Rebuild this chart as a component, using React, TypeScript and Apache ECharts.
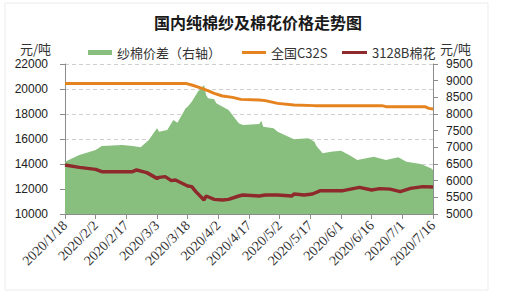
import React, { useEffect, useRef } from "react";
import * as echarts from "echarts";

// Day offsets from 2020/1/18
const xTickStep = 15;
const xMaxDay = 180;

const spreadDays = [0, 7, 15, 18, 28, 33, 37, 41, 45, 46, 50, 53, 55, 59, 60, 62, 64, 65, 68, 69, 70, 73, 74, 80, 85, 87, 95, 96, 97, 102, 104, 112, 119, 122, 123, 126, 130, 135, 139, 143, 151, 157, 163, 167, 174, 179, 180];
const spreadValues = [6570, 6770, 6920, 7040, 7070, 7040, 7000, 7220, 7570, 7470, 7520, 7820, 7740, 8170, 8220, 8370, 8570, 8670, 8870, 8570, 8470, 8440, 8320, 8120, 7720, 7670, 7700, 7800, 7620, 7570, 7470, 7240, 7270, 7170, 7040, 6820, 6870, 6900, 6770, 6620, 6720, 6620, 6700, 6570, 6500, 6370, 6320];

const c32sDays = [0, 59, 62, 67, 71, 73, 77, 82, 86, 95, 98, 104, 112, 122, 155, 157, 176, 178, 180];
const c32sValues = [20450, 20450, 20320, 20050, 19790, 19650, 19440, 19330, 19170, 19120, 19070, 18850, 18720, 18670, 18670, 18590, 18590, 18450, 18400];

const cottonDays = [0, 7, 15, 18, 33, 35, 40, 45, 46, 49, 52, 54, 60, 62, 64, 68, 69, 73, 77, 80, 85, 87, 95, 98, 104, 111, 112, 117, 121, 125, 136, 144, 150, 154, 159, 164, 169, 175, 180];
const cottonValues = [13920, 13730, 13570, 13390, 13390, 13520, 13310, 12850, 12930, 12990, 12670, 12720, 12240, 12190, 11790, 11120, 11440, 11170, 11120, 11170, 11440, 11520, 11440, 11520, 11520, 11440, 11600, 11520, 11600, 11870, 11870, 12130, 11920, 12030, 11990, 11790, 12050, 12190, 12160];

const seriesNames = ["纱棉价差（右轴）", "全国C32S", "3128B棉花"];
const titleText = "国内纯棉纱及棉花价格走势图";
const unitText = "元/吨";

const START = Date.UTC(2020, 0, 18);
function dayLabel(v: number): string {
  const d = new Date(START + v * 86400000);
  return `${d.getUTCFullYear()}/${d.getUTCMonth() + 1}/${d.getUTCDate()}`;
}

const zip = (xs: number[], ys: number[]) => xs.map((x, i) => [x, ys[i]]);

export default function App() {
  const ref = useRef<HTMLDivElement>(null);
  useEffect(() => {
    if (!ref.current) return;
    const chart = echarts.init(ref.current, undefined, { renderer: "svg" });
    const cjk = "'Noto Sans CJK SC', 'Noto Sans', sans-serif";
    const axisColor = "#8c8c8c";
    const numFont = "'Liberation Sans', Arial, sans-serif";
    chart.setOption({
      animation: false,
      backgroundColor: "#fff",
      grid: { left: 65, right: 76, top: 64, bottom: 83, containLabel: false },
      graphic: [
        { type: "rect", shape: { x: 5, y: 3, width: 483, height: 287 }, style: { fill: "none", stroke: "#ececec", lineWidth: 1 }, silent: true },
        { type: "text", x: 258, y: 22, style: { text: titleText, textAlign: "center", textVerticalAlign: "middle", font: `bold 16px ${cjk}`, fill: "#1a1a1a" } },
        { type: "text", x: 20, y: 48, style: { text: unitText, textVerticalAlign: "middle", font: `13px ${cjk}`, fill: "#333" } },
        { type: "text", x: 440, y: 48, style: { text: unitText, textVerticalAlign: "middle", font: `13px ${cjk}`, fill: "#333" } },
      ],
      legend: [
        { data: [seriesNames[0]], left: 83, top: 41, icon: "rect", itemWidth: 24, itemHeight: 5, itemGap: 0, textStyle: { fontSize: 13, fontFamily: cjk, color: "#333" } },
        { data: [seriesNames[1]], left: 237, top: 41, icon: "rect", itemWidth: 24, itemHeight: 3, itemGap: 0, textStyle: { fontSize: 13, fontFamily: cjk, color: "#333" } },
        { data: [seriesNames[2]], left: 337, top: 41, icon: "rect", itemWidth: 25, itemHeight: 3, itemGap: 0, textStyle: { fontSize: 13, fontFamily: cjk, color: "#333" } },
      ],
      xAxis: {
        type: "value",
        min: 0,
        max: xMaxDay,
        interval: xTickStep,
        axisLine: { show: true, lineStyle: { color: axisColor } },
        axisTick: { show: true, length: 5, lineStyle: { color: axisColor } },
        splitLine: { show: false },
        axisLabel: {
          rotate: 45,
          formatter: (v: number) => dayLabel(v),
          fontSize: 14,
          fontFamily: "'Liberation Serif', 'DejaVu Serif', serif",
          color: "#333",
          margin: 9,
        },
      },
      yAxis: [
        {
          type: "value",
          min: 10000,
          max: 22000,
          interval: 2000,
          position: "left",
          axisLine: { show: true, lineStyle: { color: axisColor } },
          axisTick: { show: true, length: 5, lineStyle: { color: axisColor } },
          splitLine: { show: true, lineStyle: { color: "#cfcfcf", type: [4, 3] } },
          axisLabel: { fontSize: 12, fontFamily: numFont, color: "#222", margin: 17, formatter: (v: number) => String(v) },
        },
        {
          type: "value",
          min: 5000,
          max: 9500,
          interval: 500,
          position: "right",
          axisLine: { show: true, lineStyle: { color: axisColor } },
          axisTick: { show: true, length: 5, lineStyle: { color: axisColor } },
          splitLine: { show: false },
          axisLabel: { fontSize: 12, fontFamily: numFont, color: "#222", margin: 13, formatter: (v: number) => String(v) },
        },
      ],
      series: [
        {
          name: seriesNames[0],
          type: "line",
          yAxisIndex: 1,
          data: zip(spreadDays, spreadValues),
          symbol: "none",
          lineStyle: { width: 0 },
          itemStyle: { color: "#88bf7e" },
          areaStyle: { color: "#88bf7e", opacity: 1 },
          z: 1,
        },
        {
          name: seriesNames[1],
          type: "line",
          yAxisIndex: 0,
          data: zip(c32sDays, c32sValues),
          symbol: "none",
          lineStyle: { width: 3, color: "#e5841f" },
          itemStyle: { color: "#e5841f" },
          z: 3,
        },
        {
          name: seriesNames[2],
          type: "line",
          yAxisIndex: 0,
          data: zip(cottonDays, cottonValues),
          symbol: "none",
          lineStyle: { width: 3.5, color: "#8e2a2c" },
          itemStyle: { color: "#8e2a2c" },
          z: 3,
        },
      ],
    });
    return () => chart.dispose();
  }, []);
  return <div ref={ref} style={{ position: "fixed", left: 0, top: 0, width: 509, height: 297 }} />;
}
